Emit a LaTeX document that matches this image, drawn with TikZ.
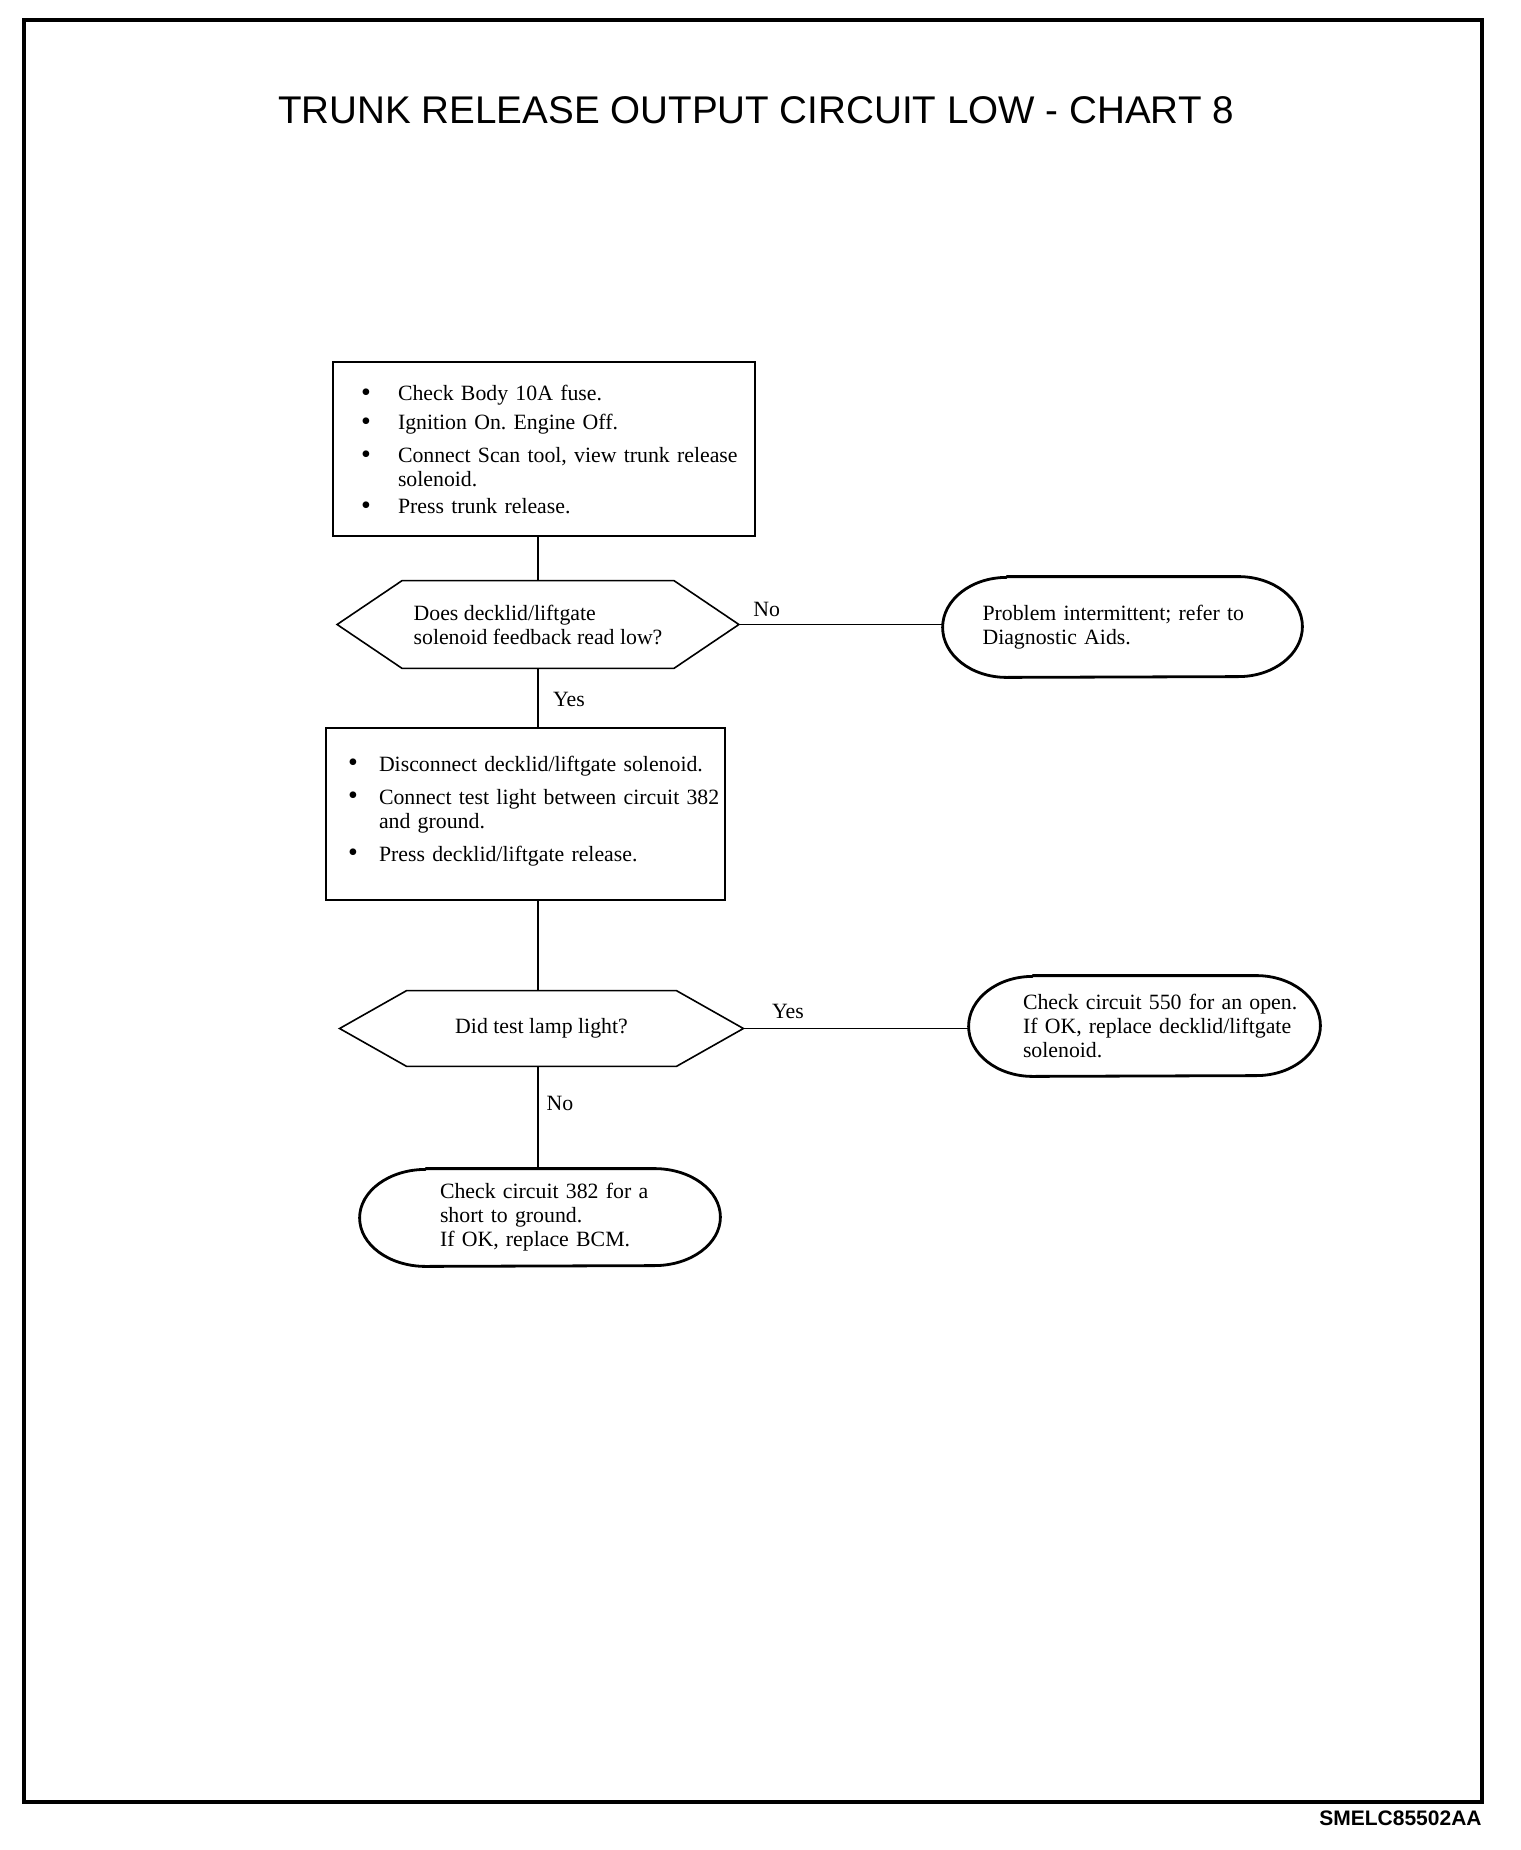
\documentclass[tikz,border=0pt]{standalone}
\usepackage{fontspec}
\setmainfont{Liberation Serif}
\newfontfamily\arialfont{Liberation Sans}
\usepackage{array}
\frenchspacing
\newcommand{\bigbul}{\raisebox{-0.4pt}{\fontsize{14}{12}\selectfont\textbullet}}
% oval outline with elliptical ends: #1 node name, #2 end x-radius, #3 half height
\newcommand{\drawoval}[3]{%
  \draw[ovalline] ([xshift=#2]#1.north west) -- ([xshift=-#2]#1.north east)
    arc[start angle=90, end angle=-90, x radius=#2, y radius=#3]
    -- ([xshift=#2]#1.south west)
    arc[start angle=270, end angle=90, x radius=#2, y radius=#3] -- cycle;}
\begin{document}
\begin{tikzpicture}[x=0.5pt,y=-0.5pt,
  bodyfont/.style={font=\fontsize{10.9}{12}\selectfont},
  stepbox/.style={draw, line width=1pt, rectangle, align=left, inner ysep=0pt, bodyfont},
  hexnode/.style={rectangle, inner sep=0pt, align=left, bodyfont},
  hexline/.style={line width=0.8pt, line join=miter},
  endbox/.style={rectangle, inner sep=0pt, align=left, bodyfont},
  ovalline/.style={line width=1.4pt, line join=round},
  conn/.style={line width=0.7pt},
  lbl/.style={inner sep=0pt, bodyfont}]
\useasboundingbox (0,0) rectangle (1520,1850);
\draw[line width=1.7pt] (24,20) rectangle (1482,1802);

\node[inner sep=0pt, font=\arialfont\fontsize{19.3}{22}\selectfont] (title) at (756,110) {TRUNK RELEASE OUTPUT CIRCUIT LOW - CHART 8};
\node[inner sep=0pt, anchor=east, font=\arialfont\bfseries\fontsize{10.5}{12}\selectfont] (code) at (1482,1818) {SMELC85502AA};

% box 1
\node[stepbox, inner xsep=14pt, text width=183pt, minimum height=87pt] (b1) at (544,449) {%
\begin{tabular}{@{}p{18.5pt}@{}l@{}}
\bigbul & Check Body 10A fuse.\rule{0pt}{11.4pt}\\[2.5pt]
\bigbul & Ignition On. Engine Off.\\[4.5pt]
\bigbul & Connect Scan tool, view trunk release\\
 & solenoid.\\[1.5pt]
\bigbul & Press trunk release.
\end{tabular}};

% hex 1
\node[hexnode, minimum width=200.5pt, minimum height=43.5pt] (h1) at (538,624.5) {Does decklid/liftgate\\solenoid feedback read low?};
\draw[hexline] (h1.west) -- ([xshift=32.5pt]h1.north west) -- ([xshift=-32.5pt]h1.north east) -- (h1.east) -- ([xshift=-32.5pt]h1.south east) -- ([xshift=32.5pt]h1.south west) -- cycle;

% oval 1
\node[endbox, minimum width=179.5pt, minimum height=50pt, text width=150pt] (o1) at (1122.5,627) {\hspace*{5pt}Problem intermittent; refer to\\\hspace*{5pt}Diagnostic Aids.};
\drawoval{o1}{32pt}{25pt}

% box 2
\node[stepbox, inner xsep=11pt, text width=177.5pt, minimum height=86pt] (b2) at (525.5,814) {%
\begin{tabular}{@{}p{15.5pt}@{}l@{}}
\bigbul & Disconnect decklid/liftgate solenoid.\\[4.5pt]
\bigbul & Connect test light between circuit 382\\
 & and ground.\\[4.5pt]
\bigbul & Press decklid/liftgate release.\rule[-6.4pt]{0pt}{0pt}
\end{tabular}};

% hex 2
\node[hexnode, minimum width=201.5pt, minimum height=37.5pt] (h2) at (541.5,1028.5) {Did test lamp light?};
\draw[hexline] (h2.west) -- ([xshift=33.5pt]h2.north west) -- ([xshift=-33.5pt]h2.north east) -- (h2.east) -- ([xshift=-33.5pt]h2.south east) -- ([xshift=33.5pt]h2.south west) -- cycle;

% oval 2
\node[endbox, minimum width=175.5pt, minimum height=50pt, text width=160pt] (o2) at (1144.5,1026) {\hspace*{19.25pt}Check circuit 550 for an open.\\\hspace*{19.25pt}If OK, replace decklid/liftgate\\\hspace*{19.25pt}solenoid.};
\drawoval{o2}{32pt}{25pt}

% oval 3
\node[endbox, minimum width=180pt, minimum height=48.5pt, text width=125pt] (o3) at (540,1217.5) {\hspace*{12.5pt}Check circuit 382 for a\\\hspace*{12.5pt}short to ground.\\\hspace*{12.5pt}If OK, replace BCM.};
\drawoval{o3}{33pt}{24.25pt}

% connectors
\draw[conn] (h1.north |- b1.south) -- (h1.north);
\draw[conn] (h1.south) -- (h1.south |- b2.north);
\draw[conn] (h1.south |- b2.south) -- (h1.south |- h2.north);
\draw[conn] (h1.south |- h2.south) -- (h1.south |- o3.north);
\draw[conn] (h1.east) -- (h1.east -| o1.west);
\draw[conn] (h2.east) -- (h2.east -| o2.west);

% labels
\node[lbl, anchor=west] (l1) at (753,609) {No};
\node[lbl] (l2) at (569,699) {Yes};
\node[lbl] (l3) at (788,1011) {Yes};
\node[lbl] (l4) at (560,1103) {No};
\end{tikzpicture}
\end{document}
